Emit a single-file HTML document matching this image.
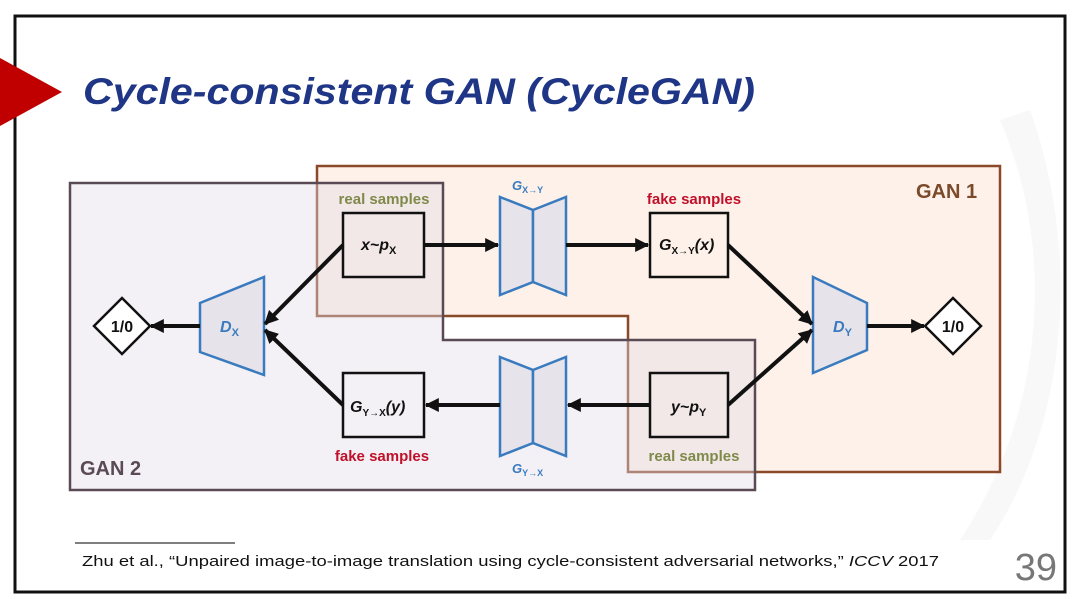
<!DOCTYPE html>
<html><head><meta charset="utf-8"><style>
html,body{margin:0;padding:0;background:#fff;}
svg{display:block;font-family:"Liberation Sans",sans-serif;}
</style></head><body>
<svg width="1080" height="608" viewBox="0 0 1080 608" xmlns="http://www.w3.org/2000/svg">
<defs>
<marker id="ah" markerWidth="14" markerHeight="14" refX="11" refY="6" orient="auto" markerUnits="userSpaceOnUse" viewBox="0 0 12 12">
<path d="M0,0 L12,6 L0,12 z" fill="#111"/></marker>
</defs>
<rect x="0" y="0" width="1080" height="608" fill="#fff"/>
<rect x="15" y="16" width="1050" height="576" fill="#fff" stroke="#111" stroke-width="3"/>
<path d="M1000,120 C1060,260 1040,420 960,540 L990,540 C1070,420 1080,250 1030,110 z" fill="#f3f3f3" opacity="0.6"/>
<polygon points="0,58 62,92 0,126" fill="#c00000"/>
<text x="83" y="104" font-size="37" font-weight="bold" font-style="italic" fill="#1f3585" textLength="672" lengthAdjust="spacingAndGlyphs">Cycle-consistent GAN (CycleGAN)</text>

<path d="M317,166 H1000 V472 H628 V316 H317 Z" fill="#f9dcc8" fill-opacity="0.4" stroke="#8a4a2a" stroke-width="2.5"/>
<path d="M70,183 H443 V340 H755 V490 H70 Z" fill="#e0dce6" fill-opacity="0.4" stroke="#5a4a55" stroke-width="2.5"/>
<text x="916" y="198" font-size="20" font-weight="bold" fill="#7a4a2a">GAN 1</text>
<text x="80" y="475" font-size="20" font-weight="bold" fill="#5a4a55">GAN 2</text>

<g fill="#e6e3ea" stroke="#3a7bbf" stroke-width="2.5">
<polygon points="500,197 533,210 533,282 500,295"/>
<polygon points="533,210 566,197 566,295 533,282"/>
<polygon points="500,357 533,370 533,443 500,456"/>
<polygon points="533,370 566,357 566,456 533,443"/>
<polygon points="200,303 264,277 264,375 200,352"/>
<polygon points="813,277 867,303 867,350 813,373"/>
</g>
<text x="512" y="190" font-size="13" font-weight="bold" font-style="italic" fill="#3a7bbf">G<tspan font-size="9" font-style="normal" dy="3">X→Y</tspan></text>
<text x="512" y="473" font-size="13" font-weight="bold" font-style="italic" fill="#3a7bbf">G<tspan font-size="9" font-style="normal" dy="3">Y→X</tspan></text>
<text x="220" y="332" font-size="16" font-weight="bold" font-style="italic" fill="#3a7bbf">D<tspan font-size="11" font-style="normal" dy="4">X</tspan></text>
<text x="833" y="332" font-size="16" font-weight="bold" font-style="italic" fill="#3a7bbf">D<tspan font-size="11" font-style="normal" dy="4">Y</tspan></text>

<g fill="none" stroke="#111" stroke-width="2.5">
<rect x="343" y="213" width="81" height="64"/>
<rect x="650" y="213" width="78" height="64"/>
<rect x="343" y="373" width="81" height="64"/>
<rect x="650" y="373" width="78" height="64"/>
<polygon points="122,298 150,326 122,354 94,326" fill="#fff"/>
<polygon points="953,298 981,326 953,354 925,326" fill="#fff"/>
</g>
<g font-weight="bold" fill="#111">
<text x="361" y="250" font-size="16" font-style="italic">x~p<tspan font-size="11" font-style="normal" dy="4">X</tspan></text>
<text x="659" y="250" font-size="16" font-style="italic">G<tspan font-size="10" font-style="normal" dy="4">X→Y</tspan><tspan dy="-4">(x)</tspan></text>
<text x="350" y="412" font-size="16" font-style="italic">G<tspan font-size="10" font-style="normal" dy="4">Y→X</tspan><tspan dy="-4">(y)</tspan></text>
<text x="671" y="412" font-size="16" font-style="italic">y~p<tspan font-size="11" font-style="normal" dy="4">Y</tspan></text>
<text x="122" y="332" font-size="16" text-anchor="middle">1/0</text>
<text x="953" y="332" font-size="16" text-anchor="middle">1/0</text>
</g>
<g font-size="15" font-weight="bold" text-anchor="middle">
<text x="384" y="204" fill="#7f8a4a">real samples</text>
<text x="694" y="204" fill="#c0102a">fake samples</text>
<text x="382" y="461" fill="#c0102a">fake samples</text>
<text x="694" y="461" fill="#7f8a4a">real samples</text>
</g>

<g stroke="#111" stroke-width="4" fill="none" marker-end="url(#ah)">
<line x1="424" y1="245" x2="498" y2="245"/>
<line x1="566" y1="245" x2="648" y2="245"/>
<line x1="728" y1="245" x2="812" y2="324"/>
<line x1="728" y1="405" x2="812" y2="330"/>
<line x1="867" y1="326" x2="924" y2="326"/>
<line x1="650" y1="405" x2="568" y2="405"/>
<line x1="500" y1="405" x2="426" y2="405"/>
<line x1="343" y1="245" x2="265" y2="324"/>
<line x1="343" y1="405" x2="265" y2="330"/>
<line x1="200" y1="326" x2="151" y2="326"/>
</g>

<line x1="75" y1="543" x2="235" y2="543" stroke="#555" stroke-width="1.5"/>
<text x="82" y="566" font-size="15" fill="#111" textLength="857" lengthAdjust="spacingAndGlyphs">Zhu et al., “Unpaired image-to-image translation using cycle-consistent adversarial networks,” <tspan font-style="italic">ICCV</tspan> 2017</text>
<text x="1057" y="580" font-size="38" fill="#777" text-anchor="end">39</text>
</svg>
</body></html>
